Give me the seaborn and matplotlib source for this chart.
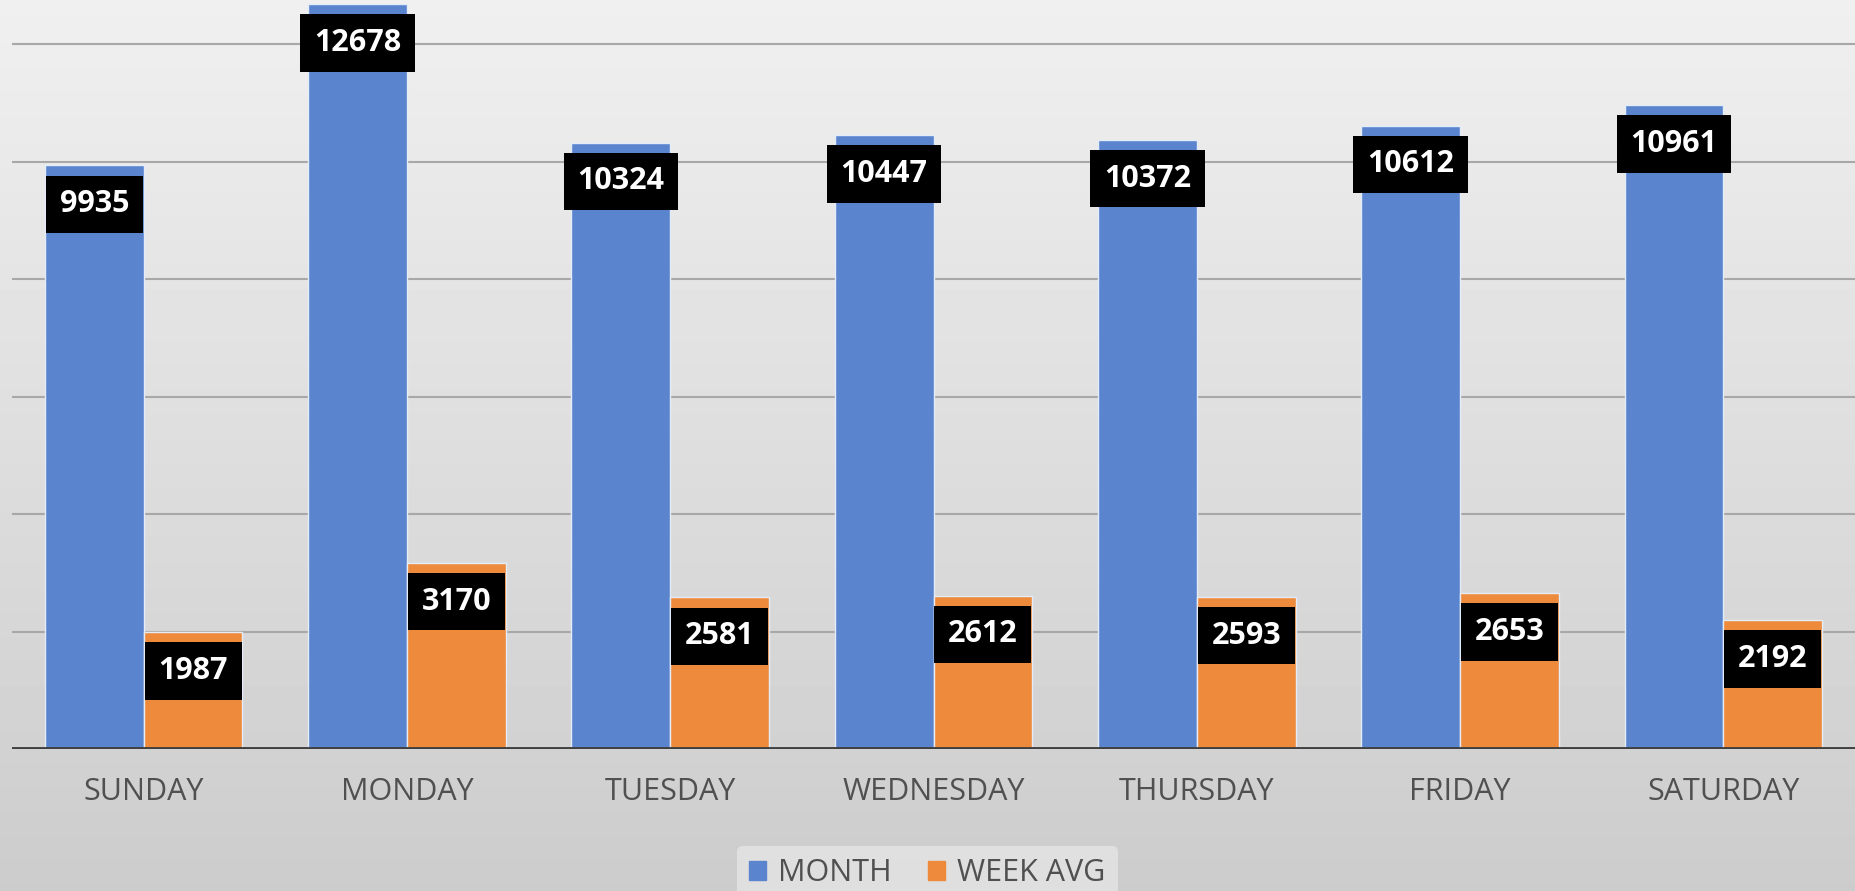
import numpy as np
import pandas as pd
import seaborn as sns
import matplotlib.pyplot as plt
from matplotlib.patches import Patch

days = ['SUNDAY', 'MONDAY', 'TUESDAY', 'WEDNESDAY', 'THURSDAY', 'FRIDAY', 'SATURDAY']
month = [9935, 12678, 10324, 10447, 10372, 10612, 10961]
week_avg = [1987, 3170, 2581, 2612, 2593, 2653, 2192]
series = ['MONTH', 'WEEK AVG']
colors = ['#5B84CE', '#EE8A3C']

df = pd.DataFrame({
    'day': days * 2,
    'count': month + week_avg,
    'series': [series[0]] * len(days) + [series[1]] * len(days),
})

sns.set_theme(style='white')
plt.rcParams['font.family'] = ['Open Sans', 'DejaVu Sans']

fig = plt.figure(figsize=(18.55, 8.91), dpi=100)

# soft grey gradient background like the office chart style
bg = fig.add_axes([0, 0, 1, 1], zorder=-1)
grad = np.linspace(0.80, 0.94, 256)[:, None]
bg.imshow(grad, aspect='auto', cmap='gray', vmin=0, vmax=1,
          extent=[0, 1, 0, 1], origin='lower')
bg.axis('off')

ax = fig.add_axes([12 / 1855, 1 - 749 / 891, 1 - 12 / 1855, 749 / 891])
ax.patch.set_alpha(0)
sns.barplot(data=df, x='day', y='count', hue='series', palette=colors,
            saturation=1, width=0.75, ax=ax, legend=False,
            edgecolor='#E4ECF8', linewidth=1)

ax.set_xlim(-0.5, 6.5)
ax.set_ylim(0, 12750)
ax.set_yticks(range(0, 12001, 2000))
ax.grid(axis='y', color='#A8A8A8', lw=1.5)
ax.set_axisbelow(True)
ax.axhline(0, color='#3F3F3F', lw=3.5, zorder=3)
ax.tick_params(axis='y', length=0, labelleft=False)
ax.tick_params(axis='x', length=0, labelsize=22, labelcolor='#505050', pad=20)
ax.set_xlabel('')
ax.set_ylabel('')
sns.despine(ax=ax, left=True, bottom=True)

for cont in ax.containers:
    for bar in cont:
        h = bar.get_height()
        ax.annotate(f'{h:.0f}', (bar.get_x() + bar.get_width() / 2, h),
                    xytext=(0, -28), textcoords='offset points',
                    ha='center', va='center', color='white',
                    fontweight='bold', fontsize=22, zorder=5,
                    bbox=dict(boxstyle='square,pad=0.45', fc='black', ec='none'))

handles = [Patch(color=c) for c in colors]
fig.legend(handles, series, loc='center', bbox_to_anchor=(0.5, 0.02), ncol=2,
           frameon=True, facecolor='#E8E8E8', edgecolor='none', framealpha=0.7,
           fontsize=22, handlelength=0.55, handleheight=0.55,
           columnspacing=1.2, handletextpad=0.4, labelcolor='#505050')

plt.savefig('out.png', dpi=100)
